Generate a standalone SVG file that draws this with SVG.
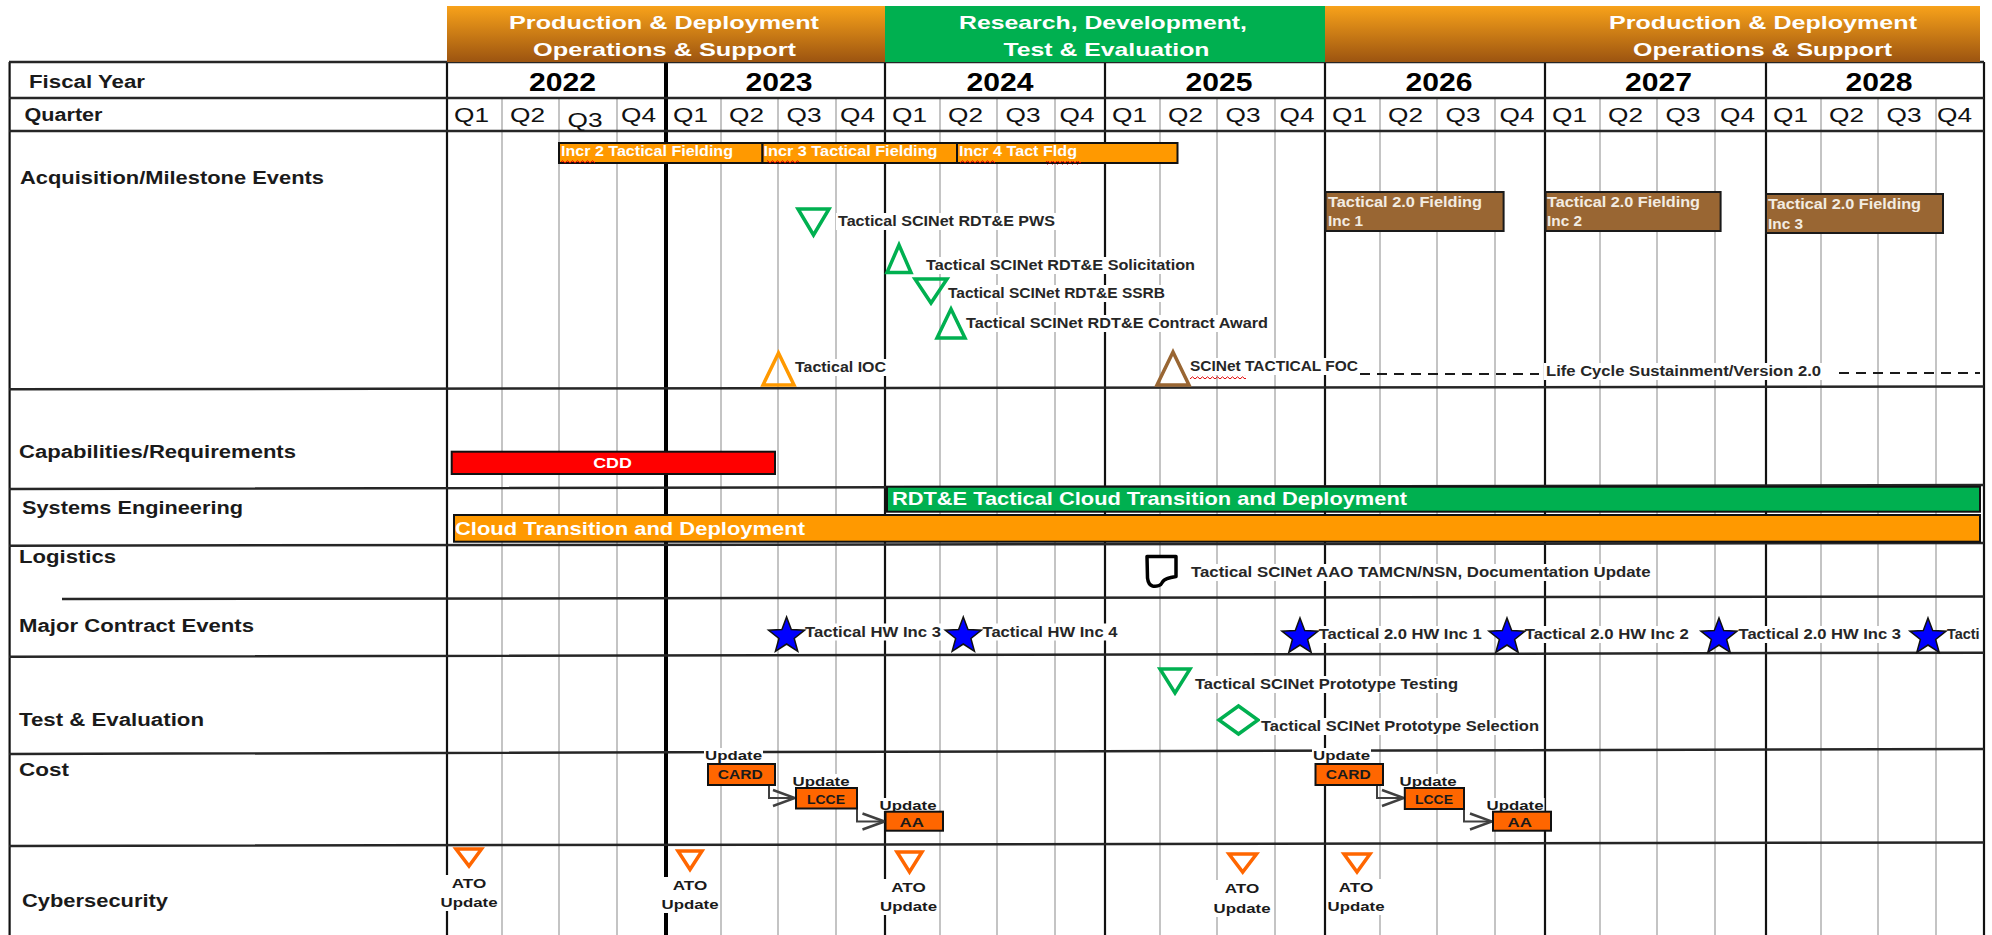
<svg xmlns="http://www.w3.org/2000/svg" width="1992" height="935" viewBox="0 0 1992 935">
<style>
text{font-family:"Liberation Sans",Arial,sans-serif}
.hd{font-weight:700;font-size:18.5px;fill:#fff}
.rl{font-weight:700;font-size:17.5px;fill:#1a1a1a}
.yr{font-weight:700;font-size:25px;fill:#000}
.q{font-size:20px;fill:#111}
.bl{font-weight:700;font-size:14px;fill:#fff}
.bt{font-weight:700;font-size:14px;fill:#f3ece2}
.ml{font-weight:700;font-size:14px;fill:#262626}
.cl{font-weight:700;font-size:13.5px;fill:#1a1a1a}
.bb{font-weight:700;font-size:19px;fill:#fff}
.hl{stroke:#262626;stroke-width:2.5;fill:none}
.vk{stroke:#111;stroke-width:2.2;fill:none}
.vg{stroke:#c4c4c4;stroke-width:2;fill:none}
.bg{fill:#fff}
.ob{fill:#ff9900;stroke:#111;stroke-width:2}
.br{fill:#996633;stroke:#1a1a1a;stroke-width:2}
.cb{fill:#ff6600;stroke:#111;stroke-width:2}
.gt{fill:none;stroke:#00b050;stroke-width:3.5}
.at{fill:none;stroke:#ff6600;stroke-width:3.5}
.star{fill:#0000ff;stroke:#111;stroke-width:1.5}
.cn{fill:none;stroke:#404040;stroke-width:2;marker-end:url(#chev)}
.dash{fill:none;stroke:#1a1a1a;stroke-width:1.8;stroke-dasharray:10 7}
.sq{fill:url(#squig)}
</style>
<defs>
<linearGradient id="og" x1="0" y1="0" x2="0" y2="1">
<stop offset="0" stop-color="#f8a21a"/>
<stop offset="1" stop-color="#9c5410"/>
</linearGradient>
<pattern id="squig" width="5" height="4" patternUnits="userSpaceOnUse">
<path d="M0,3 L2.5,0.8 L5,3" fill="none" stroke="#e00000" stroke-width="1"/>
</pattern>
<polygon id="st" class="star" points="0,-19 4.7,-6.47 18.07,-5.87 7.61,2.47 11.17,15.37 0,8 -11.17,15.37 -7.61,2.47 -18.07,-5.87 -4.7,-6.47"/>
<marker id="chev" markerUnits="userSpaceOnUse" markerWidth="26" markerHeight="22" viewBox="0 0 26 22" refX="24" refY="11" orient="auto">
<path d="M2,3 L24,11 L2,19" fill="none" stroke="#404040" stroke-width="2.5"/>
</marker>
</defs>
<rect x="0" y="0" width="1992" height="935" fill="#fff"/>

<g id="grid">
<path class="vg" d="M502,98V935M559,98V935M617,98V935M721,98V935M778,98V935M836,98V935M940,98V935M997,98V935M1055,98V935M1160,98V935M1217,98V935M1275,98V935M1380,98V935M1437,98V935M1495,98V935M1600,98V935M1657,98V935M1715,98V935M1821,98V935M1878,98V935M1936,98V935"/>
<path class="vk" d="M9.6,62V935M447,62V935M885,62V935M1105,62V935M1325,62V935M1545,62V935M1766,62V935M1984,62V935"/>
<path d="M666,62V935" stroke="#000" stroke-width="4"/>
<path class="hl" d="M9,62H1984M9,98H1984M9,131H1984M9,389.3L1984,386.5M9,489L1984,485M9,545.7L1984,543M62,599L1984,596.5M9,656.7L1984,652.7M9,754L1984,749M9,846L1984,842.5"/>
</g>

<g id="phase-headers">
<rect x="447" y="6" width="438" height="56" fill="url(#og)"/>
<rect x="885" y="6" width="440" height="56" fill="#00b050"/>
<rect x="1325" y="6" width="655" height="56" fill="url(#og)"/>
<text class="hd" x="509" y="28.5" textLength="310" lengthAdjust="spacingAndGlyphs">Production &amp; Deployment</text>
<text class="hd" x="533" y="55.5" textLength="263" lengthAdjust="spacingAndGlyphs">Operations &amp; Support</text>
<text class="hd" x="959" y="28.5" textLength="288" lengthAdjust="spacingAndGlyphs">Research, Development,</text>
<text class="hd" x="1003.5" y="55.5" textLength="206" lengthAdjust="spacingAndGlyphs">Test &amp; Evaluation</text>
<text class="hd" x="1609" y="28.5" textLength="308" lengthAdjust="spacingAndGlyphs">Production &amp; Deployment</text>
<text class="hd" x="1633" y="55.5" textLength="259" lengthAdjust="spacingAndGlyphs">Operations &amp; Support</text>
</g>

<g id="row-labels">
<text class="rl" x="29" y="87.5" textLength="116" lengthAdjust="spacingAndGlyphs">Fiscal Year</text>
<text class="rl" x="24.5" y="120.7" textLength="78" lengthAdjust="spacingAndGlyphs">Quarter</text>
<text class="rl" x="20" y="184.3" textLength="304" lengthAdjust="spacingAndGlyphs">Acquisition/Milestone Events</text>
<text class="rl" x="19" y="458.3" textLength="277" lengthAdjust="spacingAndGlyphs">Capabilities/Requirements</text>
<text class="rl" x="22" y="514" textLength="221" lengthAdjust="spacingAndGlyphs">Systems Engineering</text>
<text class="rl" x="19" y="562.7" textLength="97" lengthAdjust="spacingAndGlyphs">Logistics</text>
<text class="rl" x="19" y="632.3" textLength="235" lengthAdjust="spacingAndGlyphs">Major Contract Events</text>
<text class="rl" x="19" y="726" textLength="185" lengthAdjust="spacingAndGlyphs">Test &amp; Evaluation</text>
<text class="rl" x="19" y="775.7" textLength="50" lengthAdjust="spacingAndGlyphs">Cost</text>
<text class="rl" x="22" y="906.7" textLength="146" lengthAdjust="spacingAndGlyphs">Cybersecurity</text>
</g>

<g id="years">
<text class="yr" x="529" y="90.5" textLength="67" lengthAdjust="spacingAndGlyphs">2022</text>
<text class="yr" x="745.5" y="90.5" textLength="67" lengthAdjust="spacingAndGlyphs">2023</text>
<text class="yr" x="966.5" y="90.5" textLength="67" lengthAdjust="spacingAndGlyphs">2024</text>
<text class="yr" x="1185.5" y="90.5" textLength="67" lengthAdjust="spacingAndGlyphs">2025</text>
<text class="yr" x="1405.5" y="90.5" textLength="67" lengthAdjust="spacingAndGlyphs">2026</text>
<text class="yr" x="1625" y="90.5" textLength="67" lengthAdjust="spacingAndGlyphs">2027</text>
<text class="yr" x="1845.5" y="90.5" textLength="67" lengthAdjust="spacingAndGlyphs">2028</text>
</g>

<g id="quarters">
<text class="q" x="454" y="122" textLength="35" lengthAdjust="spacingAndGlyphs">Q1</text>
<text class="q" x="510" y="122" textLength="35" lengthAdjust="spacingAndGlyphs">Q2</text>
<text class="q" x="567.5" y="126.5" textLength="35" lengthAdjust="spacingAndGlyphs">Q3</text>
<text class="q" x="621" y="122" textLength="35" lengthAdjust="spacingAndGlyphs">Q4</text>
<text class="q" x="673" y="122" textLength="35" lengthAdjust="spacingAndGlyphs">Q1</text>
<text class="q" x="729" y="122" textLength="35" lengthAdjust="spacingAndGlyphs">Q2</text>
<text class="q" x="786.5" y="122" textLength="35" lengthAdjust="spacingAndGlyphs">Q3</text>
<text class="q" x="840" y="122" textLength="35" lengthAdjust="spacingAndGlyphs">Q4</text>
<text class="q" x="892" y="122" textLength="35" lengthAdjust="spacingAndGlyphs">Q1</text>
<text class="q" x="948" y="122" textLength="35" lengthAdjust="spacingAndGlyphs">Q2</text>
<text class="q" x="1005.5" y="122" textLength="35" lengthAdjust="spacingAndGlyphs">Q3</text>
<text class="q" x="1059.5" y="122" textLength="35" lengthAdjust="spacingAndGlyphs">Q4</text>
<text class="q" x="1112" y="122" textLength="35" lengthAdjust="spacingAndGlyphs">Q1</text>
<text class="q" x="1168" y="122" textLength="35" lengthAdjust="spacingAndGlyphs">Q2</text>
<text class="q" x="1225.5" y="122" textLength="35" lengthAdjust="spacingAndGlyphs">Q3</text>
<text class="q" x="1279.5" y="122" textLength="35" lengthAdjust="spacingAndGlyphs">Q4</text>
<text class="q" x="1332" y="122" textLength="35" lengthAdjust="spacingAndGlyphs">Q1</text>
<text class="q" x="1388" y="122" textLength="35" lengthAdjust="spacingAndGlyphs">Q2</text>
<text class="q" x="1445.5" y="122" textLength="35" lengthAdjust="spacingAndGlyphs">Q3</text>
<text class="q" x="1499.5" y="122" textLength="35" lengthAdjust="spacingAndGlyphs">Q4</text>
<text class="q" x="1552" y="122" textLength="35" lengthAdjust="spacingAndGlyphs">Q1</text>
<text class="q" x="1608" y="122" textLength="35" lengthAdjust="spacingAndGlyphs">Q2</text>
<text class="q" x="1665.5" y="122" textLength="35" lengthAdjust="spacingAndGlyphs">Q3</text>
<text class="q" x="1720" y="122" textLength="35" lengthAdjust="spacingAndGlyphs">Q4</text>
<text class="q" x="1773" y="122" textLength="35" lengthAdjust="spacingAndGlyphs">Q1</text>
<text class="q" x="1829" y="122" textLength="35" lengthAdjust="spacingAndGlyphs">Q2</text>
<text class="q" x="1886.5" y="122" textLength="35" lengthAdjust="spacingAndGlyphs">Q3</text>
<text class="q" x="1937" y="122" textLength="35" lengthAdjust="spacingAndGlyphs">Q4</text>
</g>

<g id="connectors">
<path class="dash" d="M1360,374H1539M1839,373H1980"/>
<path class="cn" d="M769,785V798H795"/>
<path class="cn" d="M857,809V821.5H884.5"/>
<path class="cn" d="M1377,785V798H1404"/>
<path class="cn" d="M1464,809V821.5H1492"/>
</g>

<g id="incr2-fielding">
<rect class="ob" x="559" y="143" width="203.5" height="20"/>
<text class="bl" x="561" y="156" textLength="172" lengthAdjust="spacingAndGlyphs">Incr 2 Tactical Fielding</text>
<rect class="sq" x="561" y="160" width="34" height="4"/>
</g>
<g id="incr3-fielding">
<rect class="ob" x="762.5" y="143" width="194.5" height="20"/>
<text class="bl" x="763.5" y="156" textLength="174" lengthAdjust="spacingAndGlyphs">Incr 3 Tactical Fielding</text>
<rect class="sq" x="767" y="160" width="32" height="4"/>
</g>
<g id="incr4-fielding">
<rect class="ob" x="957" y="143" width="220.5" height="20"/>
<text class="bl" x="959" y="156" textLength="118" lengthAdjust="spacingAndGlyphs">Incr 4 Tact Fldg</text>
<rect class="sq" x="960" y="160" width="35" height="4"/>
<rect class="sq" x="1046" y="161" width="35" height="4"/>
</g>

<g id="fielding-inc1">
<rect class="br" x="1325.6" y="192" width="178" height="39"/>
<text class="bt" x="1328" y="207" textLength="154" lengthAdjust="spacingAndGlyphs">Tactical 2.0 Fielding</text>
<text class="bt" x="1328" y="226" textLength="35" lengthAdjust="spacingAndGlyphs">Inc 1</text>
</g>
<g id="fielding-inc2">
<rect class="br" x="1545.6" y="192" width="175" height="39"/>
<text class="bt" x="1547" y="207" textLength="153" lengthAdjust="spacingAndGlyphs">Tactical 2.0 Fielding</text>
<text class="bt" x="1547" y="226" textLength="35" lengthAdjust="spacingAndGlyphs">Inc 2</text>
</g>
<g id="fielding-inc3">
<rect class="br" x="1766" y="194" width="177" height="39"/>
<text class="bt" x="1768" y="209" textLength="153" lengthAdjust="spacingAndGlyphs">Tactical 2.0 Fielding</text>
<text class="bt" x="1768" y="229" textLength="35" lengthAdjust="spacingAndGlyphs">Inc 3</text>
</g>

<g id="rdte-pws">
<polygon class="gt" points="798,209 829,209 813.5,235"/>
<rect class="bg" x="836" y="213" width="221" height="17"/>
<text class="ml" x="838" y="226" textLength="217" lengthAdjust="spacingAndGlyphs">Tactical SCINet RDT&amp;E PWS</text>
</g>
<g id="rdte-solicitation">
<polygon class="gt" points="887,272.5 911,272.5 899,245"/>
<rect class="bg" x="924" y="257" width="273" height="17"/>
<text class="ml" x="926" y="270" textLength="269" lengthAdjust="spacingAndGlyphs">Tactical SCINet RDT&amp;E Solicitation</text>
</g>
<g id="rdte-ssrb">
<polygon class="gt" points="915,279 947,279 931,303"/>
<rect class="bg" x="947" y="285" width="222" height="17"/>
<text class="ml" x="948" y="297.7" textLength="217" lengthAdjust="spacingAndGlyphs">Tactical SCINet RDT&amp;E SSRB</text>
</g>
<g id="rdte-award">
<polygon class="gt" points="937,338 965,338 951,309"/>
<rect class="bg" x="966" y="315" width="304" height="17"/>
<text class="ml" x="966" y="327.7" textLength="302" lengthAdjust="spacingAndGlyphs">Tactical SCINet RDT&amp;E Contract Award</text>
</g>
<g id="tactical-ioc">
<polygon points="763,385 794,385 778.5,353" fill="none" stroke="#ff9900" stroke-width="3.5"/>
<rect class="bg" x="794" y="359" width="94" height="17"/>
<text class="ml" x="795" y="371.7" textLength="91" lengthAdjust="spacingAndGlyphs">Tactical IOC</text>
</g>
<g id="tactical-foc">
<polygon points="1157,385 1189,385 1173,352" fill="none" stroke="#996633" stroke-width="3.5"/>
<rect class="bg" x="1189" y="358" width="171" height="17"/>
<text class="ml" x="1190" y="371" textLength="168" lengthAdjust="spacingAndGlyphs">SCINet TACTICAL FOC</text>
<rect class="sq" x="1190" y="375" width="56" height="4"/>
</g>
<g id="life-cycle">
<rect class="bg" x="1544" y="363" width="279" height="17"/>
<text class="ml" x="1546" y="375.7" textLength="275" lengthAdjust="spacingAndGlyphs">Life Cycle Sustainment/Version 2.0</text>
</g>

<g id="cdd">
<rect x="451.7" y="451.7" width="323.3" height="22.3" fill="#ff0000" stroke="#111" stroke-width="2"/>
<text class="bl" x="593.2" y="468" textLength="38.6" lengthAdjust="spacingAndGlyphs">CDD</text>
</g>
<g id="rdte-cloud">
<rect x="887" y="486.7" width="1093" height="25" fill="#00b050" stroke="#111" stroke-width="2"/>
<text class="bb" x="892" y="505" textLength="515" lengthAdjust="spacingAndGlyphs">RDT&amp;E Tactical Cloud Transition and Deployment</text>
</g>
<g id="cloud">
<rect x="454" y="515" width="1526" height="26.7" fill="#ff9900" stroke="#111" stroke-width="2"/>
<text class="bb" x="455" y="535" textLength="350" lengthAdjust="spacingAndGlyphs">Cloud Transition and Deployment</text>
</g>

<g id="logistics-update">
<path d="M1147,556.5H1176V576.5C1170,577.5 1164,578.5 1162.5,582C1161,585.5 1156.5,586.8 1152.5,586C1149,585 1148,582 1147.5,578Z" fill="#fff" stroke="#000" stroke-width="3.5" stroke-linejoin="round"/>
<rect class="bg" x="1189" y="564" width="464" height="17"/>
<text class="ml" x="1191" y="576.7" textLength="459.5" lengthAdjust="spacingAndGlyphs">Tactical SCINet AAO TAMCN/NSN, Documentation Update</text>
</g>

<g id="hw-inc3">
<rect class="bg" x="804" y="623.5" width="139" height="17"/>
<text class="ml" x="805" y="636.5" textLength="136" lengthAdjust="spacingAndGlyphs">Tactical HW Inc 3</text>
<use href="#st" x="786.6" y="636"/>
</g>
<g id="hw-inc4">
<rect class="bg" x="981.5" y="623.5" width="138" height="17"/>
<text class="ml" x="982.5" y="636.5" textLength="135" lengthAdjust="spacingAndGlyphs">Tactical HW Inc 4</text>
<use href="#st" x="963.3" y="636"/>
</g>
<g id="hw2-inc1">
<rect class="bg" x="1318" y="626" width="166" height="17"/>
<text class="ml" x="1318.7" y="639" textLength="163" lengthAdjust="spacingAndGlyphs">Tactical 2.0 HW Inc 1</text>
<use href="#st" x="1300" y="637"/>
</g>
<g id="hw2-inc2">
<rect class="bg" x="1524" y="626" width="167" height="17"/>
<text class="ml" x="1524.7" y="639" textLength="164" lengthAdjust="spacingAndGlyphs">Tactical 2.0 HW Inc 2</text>
<use href="#st" x="1507" y="637"/>
</g>
<g id="hw2-inc3">
<rect class="bg" x="1738" y="626" width="165" height="17"/>
<text class="ml" x="1738.5" y="639" textLength="162.5" lengthAdjust="spacingAndGlyphs">Tactical 2.0 HW Inc 3</text>
<use href="#st" x="1719" y="637"/>
</g>
<g id="hw2-inc4">
<rect class="bg" x="1946" y="626" width="36" height="17"/>
<text class="ml" x="1947" y="639" textLength="32.6" lengthAdjust="spacingAndGlyphs">Tacti</text>
<use href="#st" x="1928" y="637"/>
</g>

<g id="prototype-testing">
<polygon class="gt" points="1160,669 1190,669 1175,693"/>
<rect class="bg" x="1193" y="676" width="267" height="17"/>
<text class="ml" x="1195" y="689" textLength="263" lengthAdjust="spacingAndGlyphs">Tactical SCINet Prototype Testing</text>
</g>
<g id="prototype-selection">
<polygon class="gt" points="1238.5,706 1258,720 1238.5,734 1219,720"/>
<rect class="bg" x="1260" y="718" width="281" height="17"/>
<text class="ml" x="1261" y="730.5" textLength="278" lengthAdjust="spacingAndGlyphs">Tactical SCINet Prototype Selection</text>
</g>

<g id="card-1">
<rect class="bg" x="704" y="748" width="59" height="15"/>
<text class="cl" x="705" y="760" textLength="57" lengthAdjust="spacingAndGlyphs">Update</text>
<rect class="cb" x="708" y="764" width="67" height="21"/>
<text class="cl" x="717.7" y="779" textLength="45" lengthAdjust="spacingAndGlyphs">CARD</text>
</g>
<g id="lcce-1">
<rect class="bg" x="791.5" y="774" width="59" height="13"/>
<text class="cl" x="792.5" y="786" textLength="57" lengthAdjust="spacingAndGlyphs">Update</text>
<rect class="cb" x="796" y="788" width="61" height="20.5"/>
<text class="cl" x="807" y="804" textLength="38" lengthAdjust="spacingAndGlyphs">LCCE</text>
</g>
<g id="aa-1">
<rect class="bg" x="878.5" y="798" width="59" height="13"/>
<text class="cl" x="879.5" y="810" textLength="57" lengthAdjust="spacingAndGlyphs">Update</text>
<rect class="cb" x="885.5" y="811.7" width="57.5" height="19"/>
<text class="cl" x="899.6" y="826.5" textLength="24.5" lengthAdjust="spacingAndGlyphs">AA</text>
</g>
<g id="card-2">
<rect class="bg" x="1312" y="748" width="59" height="15"/>
<text class="cl" x="1313" y="760" textLength="57" lengthAdjust="spacingAndGlyphs">Update</text>
<rect class="cb" x="1315.5" y="764" width="67.5" height="21"/>
<text class="cl" x="1325.7" y="779" textLength="45" lengthAdjust="spacingAndGlyphs">CARD</text>
</g>
<g id="lcce-2">
<rect class="bg" x="1398.5" y="774" width="59" height="13"/>
<text class="cl" x="1399.5" y="786" textLength="57" lengthAdjust="spacingAndGlyphs">Update</text>
<rect class="cb" x="1404.8" y="788" width="59.2" height="21"/>
<text class="cl" x="1415" y="804" textLength="38" lengthAdjust="spacingAndGlyphs">LCCE</text>
</g>
<g id="aa-2">
<rect class="bg" x="1485.5" y="798" width="59" height="13"/>
<text class="cl" x="1486.5" y="810" textLength="57" lengthAdjust="spacingAndGlyphs">Update</text>
<rect class="cb" x="1493" y="811.7" width="58" height="19"/>
<text class="cl" x="1507.6" y="826.5" textLength="24.5" lengthAdjust="spacingAndGlyphs">AA</text>
</g>

<g id="ato-1">
<polygon class="at" points="456,849 481.5,849 469,866"/>
<rect class="bg" x="440" y="875" width="58" height="36"/>
<text class="cl" x="451.8" y="887.7" textLength="34.5" lengthAdjust="spacingAndGlyphs">ATO</text>
<text class="cl" x="440.5" y="907" textLength="57" lengthAdjust="spacingAndGlyphs">Update</text>
</g>
<g id="ato-2">
<polygon class="at" points="678,851 702,851 690,869.5"/>
<rect class="bg" x="661" y="877" width="58" height="36"/>
<text class="cl" x="672.8" y="889.7" textLength="34.5" lengthAdjust="spacingAndGlyphs">ATO</text>
<text class="cl" x="661.5" y="909" textLength="57" lengthAdjust="spacingAndGlyphs">Update</text>
</g>
<g id="ato-3">
<polygon class="at" points="897,852 922,852 909.5,872"/>
<rect class="bg" x="879.5" y="879" width="58" height="36"/>
<text class="cl" x="891.3" y="891.7" textLength="34.5" lengthAdjust="spacingAndGlyphs">ATO</text>
<text class="cl" x="880" y="911" textLength="57" lengthAdjust="spacingAndGlyphs">Update</text>
</g>
<g id="ato-4">
<polygon class="at" points="1229,854 1256.5,854 1242.7,872"/>
<rect class="bg" x="1213" y="880" width="58" height="37"/>
<text class="cl" x="1224.8" y="893" textLength="34.5" lengthAdjust="spacingAndGlyphs">ATO</text>
<text class="cl" x="1213.5" y="913" textLength="57" lengthAdjust="spacingAndGlyphs">Update</text>
</g>
<g id="ato-5">
<polygon class="at" points="1344,854 1370,854 1357,872"/>
<rect class="bg" x="1327" y="879" width="58" height="36"/>
<text class="cl" x="1338.8" y="891.7" textLength="34.5" lengthAdjust="spacingAndGlyphs">ATO</text>
<text class="cl" x="1327.5" y="911" textLength="57" lengthAdjust="spacingAndGlyphs">Update</text>
</g>
</svg>
